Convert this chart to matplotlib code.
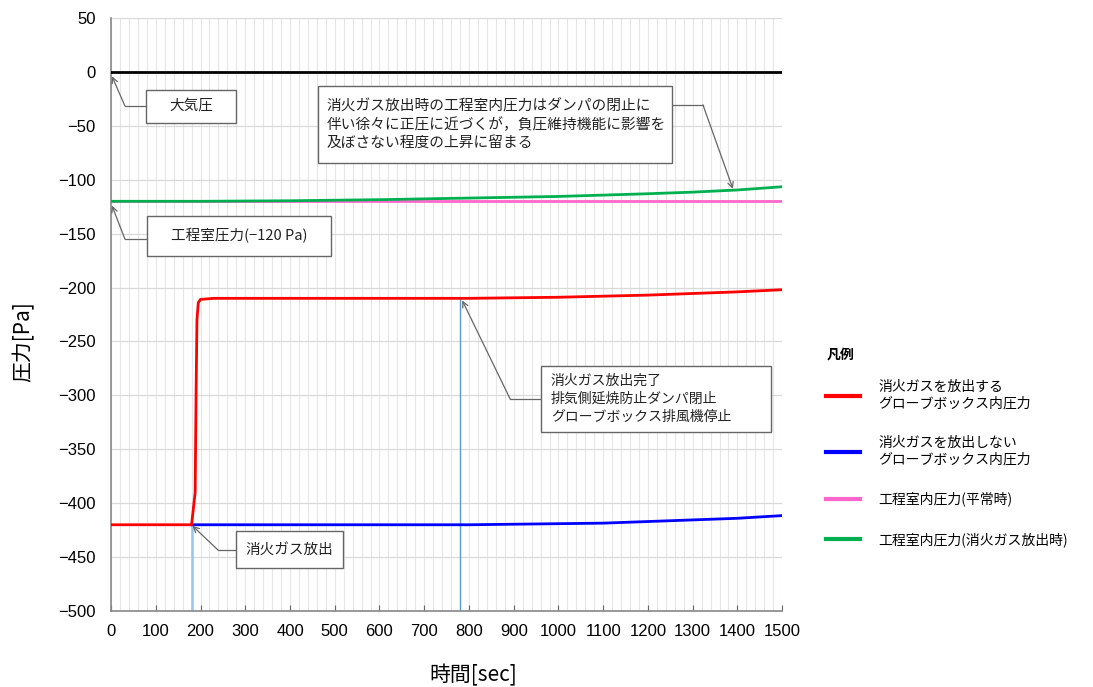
import matplotlib
matplotlib.use("Agg")
import matplotlib.pyplot as plt
from matplotlib.patches import Rectangle
from matplotlib.ticker import MultipleLocator

plt.rcParams['font.family'] = ['Noto Sans CJK JP', 'DejaVu Sans']

# ---- data ----
atm_x = [0, 1500]
atm_y = [0, 0]

room_normal_x = [0, 1500]
room_normal_y = [-120, -120]

room_gas_x = [0, 200, 400, 600, 800, 1000, 1200, 1300, 1400, 1500]
room_gas_y = [-120, -120, -119.5, -118.5, -117, -115.5, -113, -111.5, -109.5, -106.5]

gb_gas_x = [0, 180, 184, 188, 190, 192, 195, 200, 230, 400, 600, 800, 1000, 1200, 1300, 1400, 1500]
gb_gas_y = [-420, -420, -405, -390, -300, -230, -214, -211, -210, -210, -210, -210, -209, -207, -205.5, -204, -202]

gb_nogas_x = [180, 400, 600, 800, 1000, 1100, 1200, 1300, 1400, 1500]
gb_nogas_y = [-420, -420, -420, -420, -419, -418.5, -417, -415.5, -414, -411.5]

event_x = [180, 780]
event_y = [-420, -210]

legend_labels = ["消火ガスを放出する\nグローブボックス内圧力",
                 "消火ガスを放出しない\nグローブボックス内圧力",
                 "工程室内圧力(平常時)",
                 "工程室内圧力(消火ガス放出時)"]

x_ticks = list(range(0, 1501, 100))
y_ticks = list(range(-500, 51, 50))

# ---- figure ----
fig = plt.figure(figsize=(10.93, 6.87), dpi=100)
ax = fig.add_axes([0.1016, 0.1106, 0.614, 0.8632])

ax.set_xlim(0, 1500)
ax.set_ylim(-500, 50)
ax.set_xticks(x_ticks)
ax.set_yticks(y_ticks)
ax.xaxis.set_minor_locator(MultipleLocator(20))
ax.grid(which='major', axis='y', color='#d9d9d9', lw=0.9)
ax.grid(which='minor', axis='x', color='#e6e6e6', lw=0.8)
ax.grid(which='major', axis='x', color='#e6e6e6', lw=0.8)
ax.set_axisbelow(True)
for s in ['top', 'right']:
    ax.spines[s].set_visible(False)
for s in ['left', 'bottom']:
    ax.spines[s].set_color('#888888')
    ax.spines[s].set_linewidth(1.2)
ax.tick_params(axis='x', which='major', direction='in', length=4, color='#666666',
               labelsize=12, pad=9)
ax.tick_params(axis='x', which='minor', length=0)
ax.tick_params(axis='y', length=0, labelsize=12, pad=11)
for lab in ax.get_xticklabels() + ax.get_yticklabels():
    lab.set_family(['Liberation Sans', 'DejaVu Sans'])

ax.set_xlabel("時間[sec]", fontsize=15)
ax.set_ylabel("圧力[Pa]", fontsize=15)
ax.xaxis.set_label_coords(0.5395, -0.09)
ax.yaxis.set_label_coords(-0.114, 0.455)

# event lines
ax.plot([event_x[0]] * 2, [-500, event_y[0]], color='#9dc3e6', lw=1.8, zorder=2)
ax.plot([event_x[1]] * 2, [-500, event_y[1]], color='#5b9bd5', lw=1.0, zorder=2)

ax.plot(atm_x, atm_y, color='black', lw=2, zorder=3)
l_pink, = ax.plot(room_normal_x, room_normal_y, color='#ff66cc', lw=2, zorder=3)
l_green, = ax.plot(room_gas_x, room_gas_y, color='#00b050', lw=2, zorder=4)
l_blue, = ax.plot(gb_nogas_x, gb_nogas_y, color='#0000ff', lw=2, zorder=3)
l_red, = ax.plot(gb_gas_x, gb_gas_y, color='#ff0000', lw=2, zorder=4)

# annotations (callout boxes with elbow leaders)
ec = '#666666'


def callout(text, box, tx, elbow, tip, edge, ha='center', fs=10.5, ls=1.45):
    x0, x1, y0, y1 = box
    ax.add_patch(Rectangle((x0, y1), x1 - x0, y0 - y1, fc='white', ec=ec,
                           lw=1, zorder=6))
    ax.text(tx, (y0 + y1) / 2, text, fontsize=fs, ha=ha, va='center',
            zorder=7, linespacing=ls, color='#222222')
    ax.plot([edge[0], elbow[0]], [edge[1], elbow[1]], color=ec, lw=0.9, zorder=5)
    ax.annotate("", xy=tip, xytext=elbow,
                arrowprops=dict(arrowstyle='->', color=ec, lw=0.9,
                                shrinkA=0, shrinkB=0), zorder=5)


callout("大気圧", (78.2, 279.5, -16.7, -47.3), 178.8,
        (31, -31.5), (2, -4), (78.2, -31.5))
callout("工程室圧力(−120 Pa)", (80.5, 491.8, -133.6, -170.7), 286,
        (31, -155), (2, -124), (80.5, -155))
callout("消火ガス放出時の工程室内圧力はダンパの閉止に\n伴い徐々に正圧に近づくが，負圧維持機能に影響を\n及ぼさない程度の上昇に留まる",
        (462.8, 1254.1, -13, -84.4), 481,
        (1323, -30.6), (1390, -108.5), (1254.1, -30.6), ha='left', fs=10.6, ls=1.35)
callout("消火ガス放出完了\n排気側延焼防止ダンパ閉止\nグローブボックス排風機停止",
        (961.3, 1475.5, -272.7, -334.0), 983,
        (892, -303.3), (785, -212), (961.3, -303.3), ha='left', fs=10, ls=1.4)
callout("消火ガス放出", (279.4, 518.6, -425.8, -460.1), 399,
        (239, -443.4), (182, -421), (279.4, -443.4))

fig.text(827 / 1093, 1 - 355 / 687, "凡例", fontsize=10, fontweight='bold',
         ha='left', va='center')
leg = fig.legend([l_red, l_blue, l_pink, l_green], legend_labels,
                 loc='upper left', bbox_to_anchor=(0.7445, 0.465),
                 frameon=False, fontsize=10, handlelength=2.4,
                 handletextpad=1.35, labelspacing=1.85)
for h in leg.get_lines():
    h.set_linewidth(3)

fig.savefig("out.png", dpi=100)
